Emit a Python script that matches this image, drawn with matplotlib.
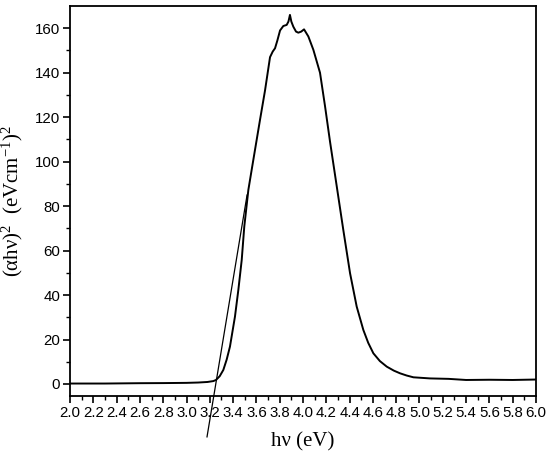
import matplotlib
matplotlib.use("Agg")
import matplotlib.pyplot as plt
import numpy as np

# Tauc plot data
energy = [2.0, 2.3, 2.6, 2.8, 3.0, 3.1, 3.18, 3.23, 3.253, 3.285, 3.316, 3.345, 3.373,
          3.416, 3.445, 3.474, 3.496, 3.531, 3.56, 3.588, 3.631, 3.674, 3.717, 3.74,
          3.76, 3.78, 3.803, 3.831, 3.86, 3.875, 3.888, 3.90, 3.917, 3.94, 3.96, 3.985,
          4.009, 4.046, 4.089, 4.146, 4.189, 4.232, 4.29, 4.346, 4.404, 4.461, 4.518,
          4.56, 4.604, 4.66, 4.719, 4.78, 4.833, 4.89, 4.948, 5.09, 5.25, 5.4, 5.6,
          5.8, 6.0]
absorb = [0.2, 0.2, 0.35, 0.4, 0.5, 0.65, 0.9, 1.3, 1.8, 3.5, 6.3, 11.0, 16.8,
          30.3, 42.3, 55.8, 70.8, 87.3, 96.5, 105.3, 118.8, 132.0, 147.0, 149.5,
          151.0, 154.5, 159.0, 161.0, 161.5, 163.0, 166.0, 163.0, 160.7, 158.5, 158.0, 158.5,
          159.5, 156.3, 150.3, 140.0, 125.0, 109.0, 88.8, 69.3, 49.8, 34.8, 24.3,
          18.5, 13.8, 10.3, 7.8, 6.0, 4.8, 3.8, 3.0, 2.5, 2.3, 1.8, 1.9,
          1.8, 2.0]

# tangent line for the band gap
fit_x = [3.176, 3.52]
fit_y = [-23.8, 85.0]

plt.rcParams['mathtext.fontset'] = 'custom'
plt.rcParams['mathtext.rm'] = 'Liberation Serif'
plt.rcParams['mathtext.it'] = 'Liberation Serif:italic'

fig = plt.figure(figsize=(5.5, 4.62), dpi=100)
ax = fig.add_axes([0.1273, 0.1429, 0.8472, 0.8441])

ax.plot(energy, absorb, color='black', lw=1.4)
ax.plot(fit_x, fit_y, color='black', lw=0.9, clip_on=False)

ax.set_xlim(2.0, 6.0)
ax.set_ylim(-5.4, 170)
ax.set_xticks(np.arange(2.0, 6.01, 0.2))
ax.set_xticks(np.arange(2.1, 6.0, 0.2), minor=True)
ax.set_xticklabels(['%.1f' % v for v in np.arange(2.0, 6.01, 0.2)])
ax.set_yticks(np.arange(0, 161, 20))
ax.set_yticks(np.arange(10, 170, 20), minor=True)

for lab in ax.get_xticklabels() + ax.get_yticklabels():
    lab.set_family('Liberation Sans')
ax.tick_params(which='major', direction='out', length=5, width=1.2, labelsize=10.8, pad=2)
ax.tick_params(which='minor', direction='out', length=3, width=1.0)
ax.tick_params(top=False, right=False)
for sp in ax.spines.values():
    sp.set_linewidth(1.3)

ax.set_xlabel('h\u03bd (eV)', family='Liberation Serif', fontsize=15, labelpad=9)
ax.set_ylabel('(\u03b1h\u03bd)$^{2}$  (eVcm$^{-1}$)$^{2}$', family='Liberation Serif', fontsize=15, labelpad=7)

plt.savefig('out.png', dpi=100)
